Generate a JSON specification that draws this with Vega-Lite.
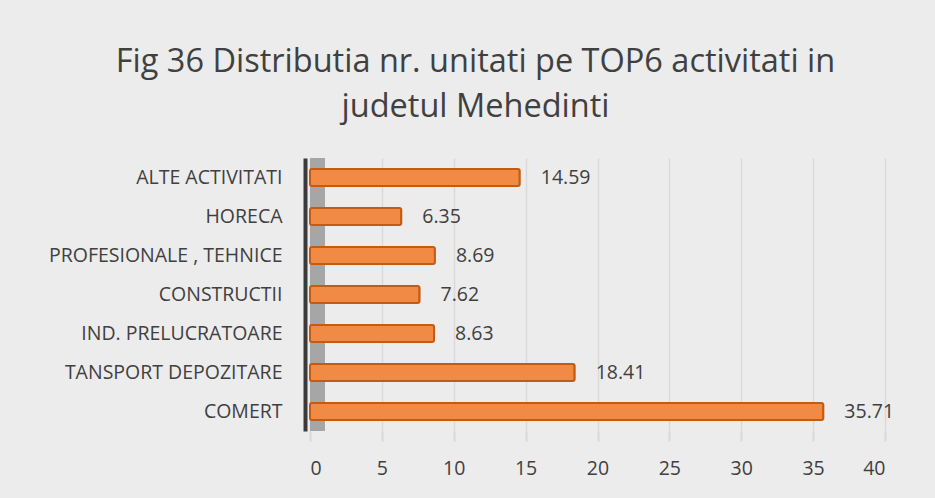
{
  "$schema": "https://vega.github.io/schema/vega-lite/v6.json",
  "width": 575,
  "height": 273,
  "autosize": {"type": "none"},
  "padding": {"left": 310, "top": 158, "right": 50, "bottom": 67},
  "background": "#ececec",
  "title": {
    "text": ["Fig 36 Distributia nr. unitati pe TOP6 activitati in", "judetul Mehedinti"],
    "font": "Open Sans",
    "fontSize": 32.5,
    "fontWeight": "normal",
    "color": "#404040",
    "lineHeight": 45,
    "anchor": "middle",
    "frame": "group",
    "dx": -122,
    "offset": 35
  },
  "config": {
    "view": {"stroke": null},
    "font": "Open Sans"
  },
  "data": {
    "values": [
      {"activitate": "ALTE ACTIVITATI ", "valoare": 14.59},
      {"activitate": "HORECA ", "valoare": 6.35},
      {"activitate": "PROFESIONALE , TEHNICE", "valoare": 8.69},
      {"activitate": "CONSTRUCTII", "valoare": 7.62},
      {"activitate": "IND. PRELUCRATOARE", "valoare": 8.63},
      {"activitate": "TANSPORT  DEPOZITARE", "valoare": 18.41},
      {"activitate": "COMERT", "valoare": 35.71}
    ]
  },
  "layer": [
    {
      "mark": {"type": "rect", "fill": "#a6a6a6"},
      "encoding": {
        "x": {"datum": 0, "type": "quantitative", "scale": {"domain": [0, 40]}},
        "x2": {"datum": 1}
      }
    },
    {
      "mark": {"type": "bar", "fill": "#f08a45", "stroke": "#c55a11", "strokeWidth": 2, "cornerRadius": 2},
      "encoding": {
        "y": {
          "field": "activitate",
          "type": "nominal",
          "sort": null,
          "scale": {"paddingInner": 0.56, "paddingOuter": 0.28},
          "axis": {
            "title": null,
            "ticks": false,
            "domain": true,
            "domainColor": "#3a3a3a",
            "domainWidth": 4,
            "offset": 5,
            "labelFontSize": 19.5,
            "labelColor": "#404040",
            "labelPadding": 23,
            "labelLimit": 400,
            "labelFont": "Open Sans"
          }
        },
        "x": {
          "field": "valoare",
          "type": "quantitative",
          "scale": {"domain": [0, 40]},
          "axis": {
            "title": null,
            "values": [0, 5, 10, 15, 20, 25, 30, 35, 40],
            "labelOverlap": false,
            "domain": false,
            "ticks": true,
            "tickColor": "#d9d9d9",
            "tickWidth": 2,
            "tickSize": 10,
            "grid": true,
            "gridColor": "#d9d9d9",
            "gridWidth": 1.5,
            "labelFontSize": 19.5,
            "labelColor": "#404040",
            "labelPadding": 18,
            "labelFont": "Open Sans"
          }
        }
      }
    },
    {
      "mark": {"type": "text", "align": "left", "dx": 21, "fontSize": 19.5, "color": "#404040", "font": "Open Sans"},
      "encoding": {
        "y": {"field": "activitate", "type": "nominal", "sort": null},
        "x": {"field": "valoare", "type": "quantitative"},
        "text": {"field": "valoare", "type": "quantitative", "format": ".2f"}
      }
    }
  ]
}
